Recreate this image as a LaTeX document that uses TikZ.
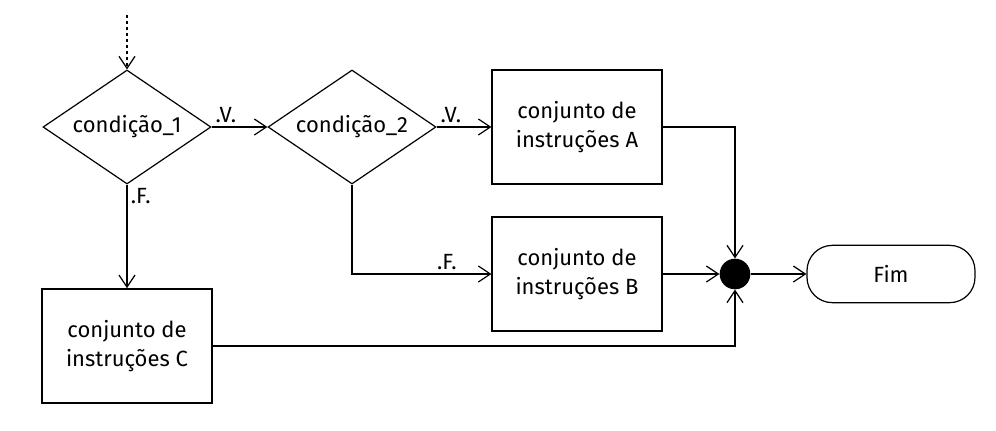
\documentclass[tikz,border=0pt]{standalone}
\usepackage{fontspec}
\setmainfont{Fira Sans}
\usetikzlibrary{shapes.geometric,arrows.meta}

\begin{document}
\begin{tikzpicture}[x=0.75pt,y=-0.75pt,
    font=\fontsize{16.5}{22}\selectfont,
    seta/.style={line width=0.9pt,-{Straight Barb[length=9pt,width=12pt,line width=0.9pt]}},
    decisao/.style={draw,line width=0.9pt,diamond,shape aspect=1.47,inner sep=0pt,
      minimum width=126pt,minimum height=85.5pt},
    bloco/.style={draw,line width=1.3pt,rectangle,align=center,inner sep=0pt,
      minimum width=127pt,minimum height=85.5pt},
    juncao/.style={circle,fill=black,inner sep=0pt,minimum size=23pt},
    fim/.style={draw,line width=0.9pt,rectangle,rounded corners=19pt,inner sep=0pt,
      minimum width=126pt,minimum height=43pt},
    rotulo/.style={inner sep=2.5pt}]
    \useasboundingbox (0,0) rectangle (996,430);

    \coordinate (ini) at (127,15);
    \node[decisao] (c1) at (127,127) {condição\_1};
    \node[decisao] (c2) at (352,127) {condição\_2};
    \node[bloco] (A) at (577,127) {conjunto de\\instruções A};
    \node[bloco] (B) at (577,274) {conjunto de\\instruções B};
    \node[bloco] (C) at (127,346) {conjunto de\\instruções C};
    \node[juncao] (J) at (735,274) {};
    \node[fim] (F) at (891,274) {Fim};

    \draw[seta,dash pattern=on 2.5pt off 2pt] (ini) -- (c1.north);
    \draw[seta] (c1.east) node[rotulo,above right]{.V.} -- (c2.west);
    \draw[seta] (c2.east) node[rotulo,above right]{.V.} -- (A.west);
    \draw[seta] (c1.south) node[rotulo,below right]{.F.} -- (C.north);
    \draw[seta] (c2.south) |- node[rotulo,pos=0.84,above]{.F.} (B.west);
    \draw[seta] (A.east) -| (J.north);
    \draw[seta] (B.east) -- (J.west);
    \draw[seta] (C.east) -| (J.south);
    \draw[seta] (J.east) -- (F.west);

\end{tikzpicture}
\end{document}
